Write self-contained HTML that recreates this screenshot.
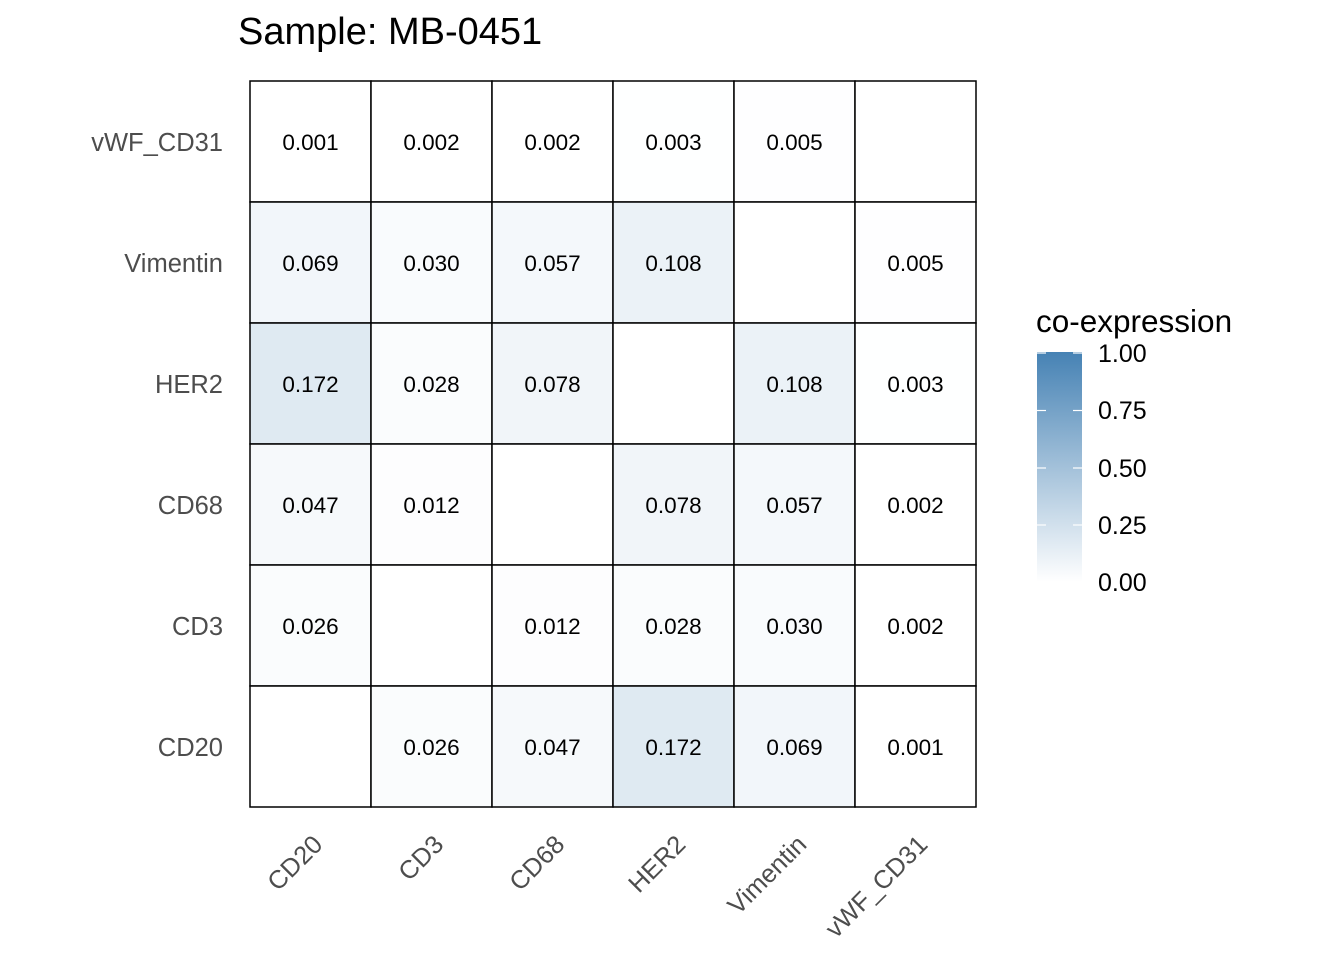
<!DOCTYPE html>
<html><head><meta charset="utf-8"><style>body{margin:0;background:#fff}svg{display:block}text{font-family:"Liberation Sans",sans-serif}</style></head>
<body>
<svg width="1344" height="960" xmlns="http://www.w3.org/2000/svg">
<defs><linearGradient id="g" x1="0" y1="1" x2="0" y2="0"><stop offset="0" stop-color="#ffffff"/><stop offset="1" stop-color="#4682b4"/></linearGradient></defs>
<text x="238" y="44" font-size="38" fill="#000">Sample: MB-0451</text>
<g stroke="#000" stroke-width="1.5">
<rect x="250" y="81" width="121" height="121" fill="#fff"/>
<rect x="371" y="81" width="121" height="121" fill="#fff"/>
<rect x="492" y="81" width="121" height="121" fill="#fff"/>
<rect x="613" y="81" width="121" height="121" fill="#feffff"/>
<rect x="734" y="81" width="121" height="121" fill="#fefeff"/>
<rect x="855" y="81" width="121" height="121" fill="#fff"/>
<rect x="250" y="202" width="121" height="121" fill="rgb(242,246,250)"/>
<rect x="371" y="202" width="121" height="121" fill="rgb(249,251,253)"/>
<rect x="492" y="202" width="121" height="121" fill="rgb(244,248,251)"/>
<rect x="613" y="202" width="121" height="121" fill="rgb(235,242,247)"/>
<rect x="734" y="202" width="121" height="121" fill="#fff"/>
<rect x="855" y="202" width="121" height="121" fill="#fefeff"/>
<rect x="250" y="323" width="121" height="121" fill="rgb(223,234,242)"/>
<rect x="371" y="323" width="121" height="121" fill="rgb(250,252,253)"/>
<rect x="492" y="323" width="121" height="121" fill="rgb(241,245,249)"/>
<rect x="613" y="323" width="121" height="121" fill="#fff"/>
<rect x="734" y="323" width="121" height="121" fill="rgb(235,242,247)"/>
<rect x="855" y="323" width="121" height="121" fill="#feffff"/>
<rect x="250" y="444" width="121" height="121" fill="rgb(246,249,251)"/>
<rect x="371" y="444" width="121" height="121" fill="rgb(253,253,254)"/>
<rect x="492" y="444" width="121" height="121" fill="#fff"/>
<rect x="613" y="444" width="121" height="121" fill="rgb(241,245,249)"/>
<rect x="734" y="444" width="121" height="121" fill="rgb(244,248,251)"/>
<rect x="855" y="444" width="121" height="121" fill="#fff"/>
<rect x="250" y="565" width="121" height="121" fill="rgb(250,252,253)"/>
<rect x="371" y="565" width="121" height="121" fill="#fff"/>
<rect x="492" y="565" width="121" height="121" fill="rgb(253,253,254)"/>
<rect x="613" y="565" width="121" height="121" fill="rgb(250,252,253)"/>
<rect x="734" y="565" width="121" height="121" fill="rgb(249,251,253)"/>
<rect x="855" y="565" width="121" height="121" fill="#fff"/>
<rect x="250" y="686" width="121" height="121" fill="#fff"/>
<rect x="371" y="686" width="121" height="121" fill="rgb(250,252,253)"/>
<rect x="492" y="686" width="121" height="121" fill="rgb(246,249,251)"/>
<rect x="613" y="686" width="121" height="121" fill="rgb(223,234,242)"/>
<rect x="734" y="686" width="121" height="121" fill="rgb(242,246,250)"/>
<rect x="855" y="686" width="121" height="121" fill="#fff"/>
</g>
<g font-size="22.5" text-anchor="middle" fill="#000">
<text x="310.5" y="150">0.001</text><text x="431.5" y="150">0.002</text><text x="552.5" y="150">0.002</text><text x="673.5" y="150">0.003</text><text x="794.5" y="150">0.005</text>
<text x="310.5" y="271">0.069</text><text x="431.5" y="271">0.030</text><text x="552.5" y="271">0.057</text><text x="673.5" y="271">0.108</text><text x="915.5" y="271">0.005</text>
<text x="310.5" y="392">0.172</text><text x="431.5" y="392">0.028</text><text x="552.5" y="392">0.078</text><text x="794.5" y="392">0.108</text><text x="915.5" y="392">0.003</text>
<text x="310.5" y="513">0.047</text><text x="431.5" y="513">0.012</text><text x="673.5" y="513">0.078</text><text x="794.5" y="513">0.057</text><text x="915.5" y="513">0.002</text>
<text x="310.5" y="634">0.026</text><text x="552.5" y="634">0.012</text><text x="673.5" y="634">0.028</text><text x="794.5" y="634">0.030</text><text x="915.5" y="634">0.002</text>
<text x="431.5" y="755">0.026</text><text x="552.5" y="755">0.047</text><text x="673.5" y="755">0.172</text><text x="794.5" y="755">0.069</text><text x="915.5" y="755">0.001</text>
</g>
<g font-size="25.5" text-anchor="end" fill="#4d4d4d">
<text x="223" y="151">vWF_CD31</text><text x="223" y="272">Vimentin</text><text x="223" y="393">HER2</text>
<text x="223" y="514">CD68</text><text x="223" y="635">CD3</text><text x="223" y="756">CD20</text>
</g>
<g font-size="25.5" text-anchor="end" fill="#4d4d4d">
<text transform="translate(324,846) rotate(-45)">CD20</text>
<text transform="translate(445,846) rotate(-45)">CD3</text>
<text transform="translate(566,846) rotate(-45)">CD68</text>
<text transform="translate(687,846) rotate(-45)">HER2</text>
<text transform="translate(808,846) rotate(-45)">Vimentin</text>
<text transform="translate(929,846) rotate(-45)">vWF_CD31</text>
</g>
<text x="1036" y="332" font-size="31.5" fill="#000">co-expression</text>
<rect x="1037" y="352" width="45" height="230" fill="url(#g)"/>
<g stroke="#fff" stroke-width="1.2">
<line x1="1037" y1="353" x2="1046" y2="353"/><line x1="1073" y1="353" x2="1082" y2="353"/>
<line x1="1037" y1="410.5" x2="1046" y2="410.5"/><line x1="1073" y1="410.5" x2="1082" y2="410.5"/>
<line x1="1037" y1="468" x2="1046" y2="468"/><line x1="1073" y1="468" x2="1082" y2="468"/>
<line x1="1037" y1="525" x2="1046" y2="525"/><line x1="1073" y1="525" x2="1082" y2="525"/>
</g>
<g font-size="25" fill="#000">
<text x="1098" y="362">1.00</text><text x="1098" y="419">0.75</text><text x="1098" y="477">0.50</text><text x="1098" y="534">0.25</text><text x="1098" y="591">0.00</text>
</g>
</svg>
</body></html>
